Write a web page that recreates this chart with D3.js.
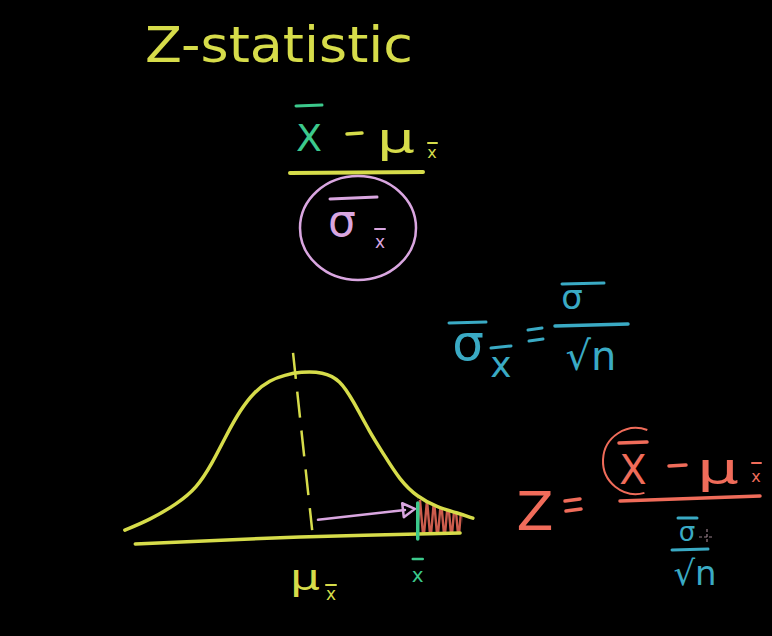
<!DOCTYPE html>
<html>
<head>
<meta charset="utf-8">
<script src="https://cdn.jsdelivr.net/npm/d3@7"></script>
<style>
html,body{margin:0;padding:0;background:#000;}
svg{display:block;}
text{font-family:"DejaVu Sans",sans-serif;}
</style>
</head>
<body>
<svg id="chart" width="772" height="636"></svg>
<script>
// ---- data (z in standard deviations, density) ----
const curveZ   = [-3.02,-2.59,-2.12,-1.78,-1.52,-1.28,-1.03,-0.79,-0.52,-0.26,0.00,0.40,0.69,0.91,1.21,1.43,1.72,2.02,2.36,2.71,2.98];
const curveD   = [0.012,0.037,0.076,0.115,0.173,0.241,0.305,0.349,0.378,0.390,0.398,0.398,0.378,0.329,0.249,0.200,0.134,0.093,0.068,0.054,0.041];
const baseZ    = [-2.84,0.00,2.76];
const baseD    = [-0.022,-0.005,0.005];
const meanLineZ = [-0.12,0.21];
const meanLineD = [0.444,0.012];
const arrowZ   = [0.31,1.81];
const arrowD   = [0.037,0.061];
const sampleZ  = 2.03;          // x-bar position
const sampleD  = [0.078,-0.010];
const shadeEndZ = 2.80;
const labels   = ["μ", "x", "Z-statistic"];

const svg = d3.select("#chart");
const W = 772, H = 636;
svg.append("rect").attr("width",W).attr("height",H).attr("fill","#000");

const x = d3.scaleLinear().domain([-3,3]).range([126,474]);
const y = d3.scaleLinear().domain([0,0.4]).range([535,371]);

const YEL = "#d6dc4a", GRN = "#3cc98c", PINK = "#d9a6e0", CYAN = "#3aaac4", SAL = "#f06c5a";

const curvePts = curveZ.map((z,i)=>[z,curveD[i]]);
const basePts  = baseZ.map((z,i)=>[z,baseD[i]]);
const smooth = d3.line().x(d=>x(d[0])).y(d=>y(d[1])).curve(d3.curveBasis);
const line = d3.line().x(d=>x(d[0])).y(d=>y(d[1])).curve(d3.curveCatmullRom.alpha(0.5));

// ---- shaded tail ----
const lerp = (zs, ds, z) => {
  for (let i=0;i<zs.length-1;i++){
    if (z>=zs[i] && z<=zs[i+1]){
      const t=(z-zs[i])/(zs[i+1]-zs[i]);
      return ds[i]+t*(ds[i+1]-ds[i]);
    }
  }
  return z<zs[0] ? ds[0] : ds[ds.length-1];
};
const defs = svg.append("defs");
const pat = defs.append("pattern").attr("id","hatch").attr("patternUnits","userSpaceOnUse")
  .attr("width",7).attr("height",40).attr("y",500);
pat.append("path").attr("d","M0,0 L3.5,40 L7,0").attr("stroke",SAL).attr("stroke-width",2.4).attr("fill","none");
const tailZs = curveZ.filter(z=>z>sampleZ && z<shadeEndZ);
const tailTop = [[sampleZ,lerp(curveZ,curveD,sampleZ)], ...tailZs.map(z=>[z,lerp(curveZ,curveD,z)]), [shadeEndZ,lerp(curveZ,curveD,shadeEndZ)]];
const tailBot = [[shadeEndZ,lerp(baseZ,baseD,shadeEndZ)],[sampleZ,lerp(baseZ,baseD,sampleZ)]];
const area = d3.line().x(d=>x(d[0])).y(d=>y(d[1]));
svg.append("path").attr("d", area(tailTop.concat(tailBot))+"Z")
  .attr("fill","url(#hatch)").attr("opacity",0.85);

// ---- baseline ----
svg.append("path").attr("d", line(basePts)).attr("fill","none")
  .attr("stroke",YEL).attr("stroke-width",3.5).attr("stroke-linecap","round");

// ---- normal curve ----
svg.append("path").attr("d", smooth(curvePts)).attr("fill","none")
  .attr("stroke",YEL).attr("stroke-width",3.5).attr("stroke-linecap","round");

// ---- mean dashed line ----
svg.append("line")
  .attr("x1",x(meanLineZ[0])).attr("y1",y(meanLineD[0]))
  .attr("x2",x(meanLineZ[1])).attr("y2",y(meanLineD[1]))
  .attr("stroke",YEL).attr("stroke-width",2.5).attr("stroke-dasharray","26,13");

// ---- arrow ----
const ax1=x(arrowZ[0]), ay1=y(arrowD[0]), ax2=x(arrowZ[1]), ay2=y(arrowD[1]);
svg.append("line").attr("x1",ax1).attr("y1",ay1).attr("x2",ax2).attr("y2",ay2)
  .attr("stroke",PINK).attr("stroke-width",2.5).attr("stroke-linecap","round");
const ang = Math.atan2(ay2-ay1, ax2-ax1);
const tip=[ax2+10*Math.cos(ang), ay2+10*Math.sin(ang)];
const hl=[ax2-2*Math.cos(ang)-7*Math.sin(ang), ay2-2*Math.sin(ang)+7*Math.cos(ang)];
const hr=[ax2-2*Math.cos(ang)+7*Math.sin(ang), ay2-2*Math.sin(ang)-7*Math.cos(ang)];
svg.append("path").attr("d",`M${hl}L${tip}L${hr}Z`).attr("fill","none")
  .attr("stroke",PINK).attr("stroke-width",2.5).attr("stroke-linejoin","round");

// ---- x-bar marker ----
svg.append("line").attr("x1",x(sampleZ)).attr("y1",y(sampleD[0]))
  .attr("x2",x(sampleZ)).attr("y2",y(sampleD[1]))
  .attr("stroke",GRN).attr("stroke-width",3.5).attr("stroke-linecap","round");

// ---- helpers for hand-written style text ----
function txt(g, s, px, py, size, color, anchor="start"){
  return g.append("text").attr("x",px).attr("y",py).attr("font-size",size)
    .attr("fill",color).attr("text-anchor",anchor).text(s);
}
function bar(g, x1, y1, x2, y2, color, w=2.5){
  g.append("line").attr("x1",x1).attr("y1",y1).attr("x2",x2).attr("y2",y2)
    .attr("stroke",color).attr("stroke-width",w).attr("stroke-linecap","round");
}

const g = svg.append("g");

// axis labels
txt(g, labels[0], 290, 590, 36, YEL).attr("textLength",30).attr("lengthAdjust","spacingAndGlyphs");
txt(g, labels[1], x(0)+31, 600, 17, YEL, "middle");
bar(g, x(0)+26, 585, x(0)+36, 585, YEL, 2);
txt(g, labels[1], x(sampleZ), 582, 20, GRN, "middle");
bar(g, x(sampleZ)-5, 559, x(sampleZ)+5, 559, GRN, 2.5);

// title
txt(g, labels[2], 145, 62, 50, YEL).attr("textLength",268).attr("lengthAdjust","spacingAndGlyphs");

// formula 1
txt(g, "X", 309, 151, 38, GRN, "middle");
bar(g, 296, 106, 322, 105, GRN, 3);
bar(g, 347, 134, 362, 133, YEL, 3.5);
txt(g, "μ", 377, 152, 40, YEL).attr("textLength",38).attr("lengthAdjust","spacingAndGlyphs");
txt(g, "x", 432, 158, 16, YEL, "middle");
bar(g, 428, 143, 437, 143, YEL, 2);
bar(g, 290, 173, 423, 172, YEL, 4);
txt(g, "σ", 342, 236, 44, PINK, "middle");
bar(g, 330, 199, 377, 197, PINK, 3);
txt(g, "x", 380, 248, 17, PINK, "middle");
bar(g, 375, 229, 385, 229, PINK, 2);
g.append("ellipse").attr("cx",358).attr("cy",228).attr("rx",58).attr("ry",52)
  .attr("fill","none").attr("stroke",PINK).attr("stroke-width",2.5);

// formula 2
txt(g, "σ", 468, 360, 50, CYAN, "middle");
bar(g, 449, 323, 486, 322, CYAN, 3);
txt(g, "x", 501, 377, 36, CYAN, "middle");
bar(g, 491, 348, 511, 346, CYAN, 3);
bar(g, 528, 330, 542, 328, CYAN, 3);
bar(g, 529, 341, 543, 339, CYAN, 3);
txt(g, "σ", 572, 309, 34, CYAN, "middle");
bar(g, 562, 284, 604, 283, CYAN, 3);
bar(g, 555, 326, 628, 324, CYAN, 3.5);
txt(g, "√n", 591, 370, 40, CYAN, "middle");

// formula 3
txt(g, "Z", 535, 530, 54, SAL, "middle");
bar(g, 565, 501, 580, 499, SAL, 3.5);
bar(g, 566, 511, 581, 509, SAL, 3.5);
const arc = d3.arc().innerRadius(33).outerRadius(33).startAngle(0.35).endAngle(-3.4);
g.append("path").attr("d", arc()).attr("transform","translate(636,461)")
  .attr("fill","none").attr("stroke",SAL).attr("stroke-width",2);
txt(g, "X", 633, 484, 40, SAL, "middle");
bar(g, 619, 443, 647, 442, SAL, 3.5);
bar(g, 669, 466, 686, 465, SAL, 3.5);
txt(g, "μ", 697, 483, 42, SAL).attr("textLength",42).attr("lengthAdjust","spacingAndGlyphs");
txt(g, "x", 756, 482, 16, SAL, "middle");
bar(g, 752, 463, 761, 463, SAL, 2);
bar(g, 620, 501, 760, 496, SAL, 3.5);
txt(g, "σ", 687, 541, 26, CYAN, "middle");
bar(g, 678, 518, 697, 518, CYAN, 3);
bar(g, 672, 550, 708, 549, CYAN, 3);
txt(g, "√n", 695, 585, 34, CYAN, "middle");
// small faint pen cursor
g.append("g").attr("stroke","#d8b4c4").attr("stroke-width",1.2).attr("opacity",0.7)
  .call(s=>{ s.append("line").attr("x1",699).attr("y1",537).attr("x2",714).attr("y2",537).attr("stroke-dasharray","3,2");
             s.append("line").attr("x1",707).attr("y1",529).attr("x2",707).attr("y2",543).attr("stroke-dasharray","3,2"); });
</script>
</body>
</html>
